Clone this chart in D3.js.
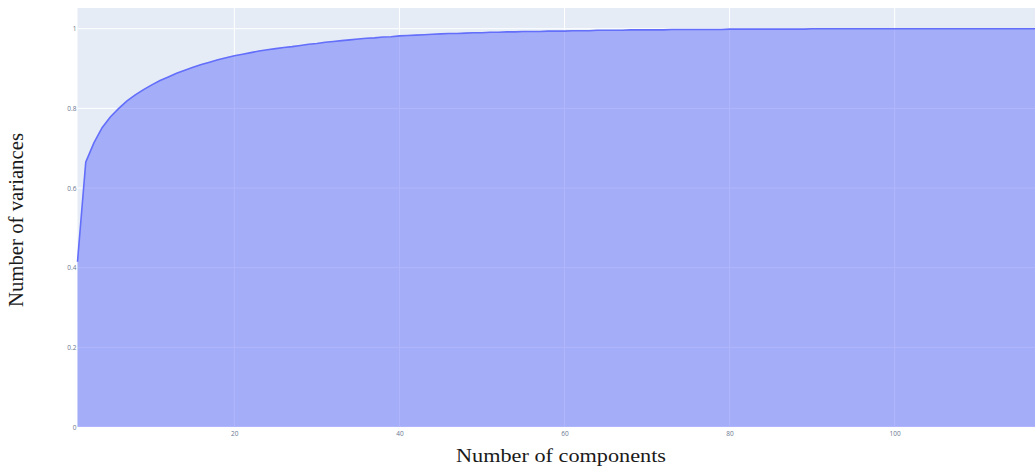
<!DOCTYPE html>
<html>
<head>
<meta charset="utf-8">
<script src="https://cdn.jsdelivr.net/npm/d3@7"></script>
<style>
  html, body { margin: 0; padding: 0; background: #ffffff; }
  svg { display: block; }
</style>
</head>
<body>
<svg id="chart" width="1035" height="467"></svg>
<script>
// Cumulative explained variance by number of principal components
const components = d3.range(1, 118);
const cumulativeVariance = [
  0.415, 0.665, 0.714, 0.752, 0.779, 0.800, 0.819, 0.834, 0.847, 0.859,
  0.870, 0.879, 0.888, 0.896, 0.903, 0.910, 0.916, 0.922, 0.927, 0.932,
  0.936, 0.940, 0.944, 0.947, 0.950, 0.953, 0.955, 0.958, 0.961, 0.963,
  0.966, 0.968, 0.970, 0.972, 0.974, 0.976, 0.977, 0.979, 0.980, 0.982,
  0.983, 0.984, 0.985, 0.986, 0.987, 0.988, 0.988, 0.989, 0.990, 0.990,
  0.991, 0.991, 0.992, 0.992, 0.993, 0.993, 0.993, 0.994, 0.994, 0.994,
  0.995, 0.995, 0.995, 0.996, 0.996, 0.996, 0.996, 0.997, 0.997, 0.997,
  0.997, 0.997, 0.998, 0.998, 0.998, 0.998, 0.998, 0.998, 0.998, 0.999,
  0.999, 0.999, 0.999, 0.999, 0.999, 0.999, 0.999, 0.999, 0.999, 1.000,
  1.000, 1.000, 1.000, 1.000, 1.000, 1.000, 1.000, 1.000, 1.000, 1.000,
  1.000, 1.000, 1.000, 1.000, 1.000, 1.000, 1.000, 1.000, 1.000, 1.000,
  1.000, 1.000, 1.000, 1.000, 1.000, 1.000, 1.000
];
const xTicks = [20, 40, 60, 80, 100];
const yTicks = [0, 0.2, 0.4, 0.6, 0.8, 1];
const xTitle = "Number of components";
const yTitle = "Number of variances";

const data = components.map((c, i) => ({ x: c, y: cumulativeVariance[i] }));

const svg = d3.select("#chart");
const plot = { left: 77.5, right: 1035, top: 8, bottom: 427 };

const x = d3.scaleLinear().domain([1, 117]).range([plot.left, plot.right]);
const y = d3.scaleLinear().domain([0, 1.052]).range([plot.bottom, plot.top]);

// Plot background
svg.append("rect")
  .attr("x", plot.left).attr("y", plot.top)
  .attr("width", plot.right - plot.left).attr("height", plot.bottom - plot.top)
  .attr("fill", "#e5ecf6");

// Grid lines
const grid = svg.append("g").attr("stroke", "#ffffff").attr("stroke-width", 1);
grid.selectAll("line.gx").data(xTicks).join("line")
  .attr("class", "gx")
  .attr("x1", d => x(d)).attr("x2", d => x(d))
  .attr("y1", plot.top).attr("y2", plot.bottom);
grid.selectAll("line.gy").data(yTicks).join("line")
  .attr("class", "gy")
  .attr("x1", plot.left).attr("x2", plot.right)
  .attr("y1", d => y(d)).attr("y2", d => y(d))
  .attr("stroke-width", d => d === 0 ? 2 : 1);

// Filled area to zero
const area = d3.area().x(d => x(d.x)).y0(y(0)).y1(d => y(d.y));
svg.append("path")
  .datum(data)
  .attr("d", area)
  .attr("fill", "#636efa")
  .attr("fill-opacity", 0.5);

// Outline
const line = d3.line().x(d => x(d.x)).y(d => y(d.y));
svg.append("path")
  .datum(data)
  .attr("d", line)
  .attr("fill", "none")
  .attr("stroke", "#636efa")
  .attr("stroke-width", 1.6)
  .attr("stroke-linejoin", "round");

// Axes (labels only, no domain lines)
const xAxis = d3.axisBottom(x).tickValues(xTicks).tickSize(0).tickPadding(4).tickFormat(d3.format("d"));
const yAxis = d3.axisLeft(y).tickValues(yTicks).tickSize(0).tickPadding(1).tickFormat(d => d3.format("~g")(d));

const gx = svg.append("g").attr("transform", `translate(0,${plot.bottom})`).call(xAxis);
const gy = svg.append("g").attr("transform", `translate(${plot.left},0)`).call(yAxis);
[gx, gy].forEach(g => {
  g.select(".domain").remove();
  g.selectAll("text")
    .attr("font-family", "'Open Sans', sans-serif")
    .attr("font-size", 6.5)
    .attr("fill", "#6a7890");
});

// Axis titles
svg.append("text")
  .attr("x", 561).attr("y", 461.5)
  .attr("text-anchor", "middle")
  .attr("font-family", "'Liberation Serif', 'Times New Roman', serif")
  .attr("font-size", 19.5)
  .attr("textLength", 210)
  .attr("lengthAdjust", "spacingAndGlyphs")
  .attr("fill", "#1a1a1a")
  .text(xTitle);

svg.append("text")
  .attr("transform", "translate(23,220) rotate(-90)")
  .attr("text-anchor", "middle")
  .attr("font-family", "'Liberation Serif', 'Times New Roman', serif")
  .attr("font-size", 20)
  .attr("textLength", 174)
  .attr("lengthAdjust", "spacingAndGlyphs")
  .attr("fill", "#1a1a1a")
  .text(yTitle);
</script>
</body>
</html>
